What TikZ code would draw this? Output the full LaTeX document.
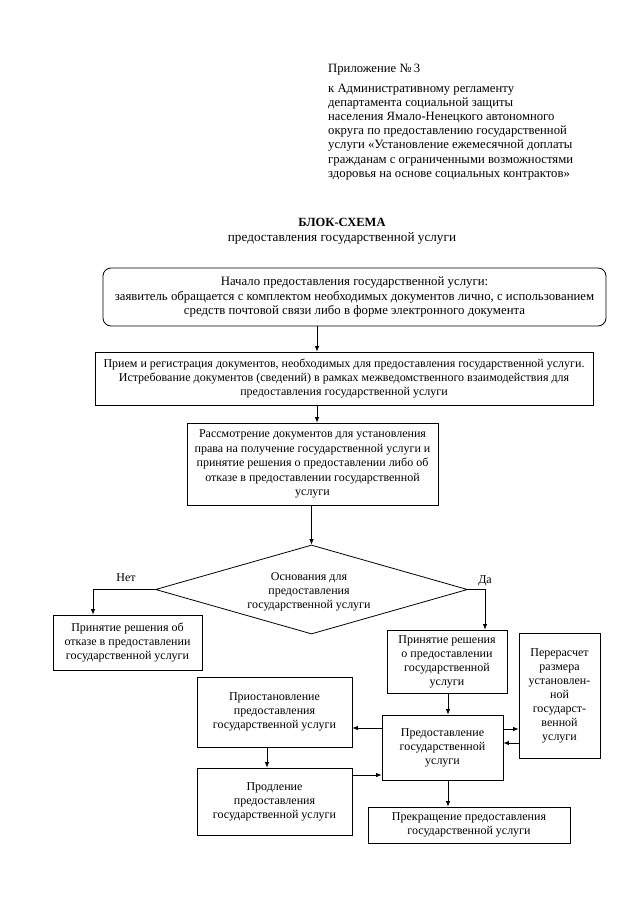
\documentclass[tikz,border=0pt]{standalone}
\usepackage{fontspec}
\setmainfont{Liberation Serif}
\usetikzlibrary{arrows.meta,shapes.geometric}
\begin{document}
\begin{tikzpicture}[x=1pt,y=-1pt,
  every node/.style={font=\fontsize{12}{14}\selectfont, inner sep=0pt},
  box/.style={draw, line width=0.8pt, align=center},
  arr/.style={draw, line width=0.8pt, -{Latex[length=5.5pt,width=4.5pt]}},
  ln/.style={draw, line width=0.8pt}]
\useasboundingbox[fill=white] (0,0) rectangle (640,905);

% header
\node[anchor=base west, font=\fontsize{12.7}{14}\selectfont] (app) at (328,72) {Приложение №\,3};
\node[anchor=north west, align=left, font=\fontsize{12.7}{14.1}\selectfont] (reg) at (328,84)
 {к Административному регламенту\\
  департамента социальной защиты\\
  населения Ямало-Ненецкого автономного\\
  округа по предоставлению государственной\\
  услуги «Установление ежемесячной доплаты\\
  гражданам с ограниченными возможностями\\
  здоровья на основе социальных контрактов»};
\node[anchor=base, font=\fontsize{12.5}{14}\selectfont\bfseries] (title) at (342,226) {БЛОК-СХЕМА};
\node[anchor=base, font=\fontsize{13.2}{14}\selectfont] (subtitle) at (342,241) {предоставления государственной услуги};

% boxes
\node[box, rounded corners=8pt, minimum width=503pt, minimum height=58pt, font=\fontsize{12.8}{14.5}\selectfont] (b1) at (354.5,297)
 {Начало предоставления государственной услуги:\\
  заявитель обращается с комплектом необходимых документов лично, с использованием\\
  средств почтовой связи либо в форме электронного документа};
\node[box, minimum width=498pt, minimum height=53pt] (b2) at (344,378.5)
 {Прием и регистрация документов, необходимых для предоставления государственной услуги.\\
  Истребование документов (сведений) в рамках межведомственного взаимодействия для\\
  предоставления государственной услуги};
\node[box, minimum width=251pt, minimum height=82pt, font=\fontsize{12}{14.5}\selectfont] (b3) at (312.5,464)
 {Рассмотрение документов для установления\\
  права на получение государственной услуги и\\
  принятие решения о предоставлении либо об\\
  отказе в предоставлении государственной\\
  услуги};
\node[box, shape=diamond, shape aspect=3.5, minimum width=312pt, minimum height=89pt] (dec) at (311.5,589.5) {};
\node[align=center] (dectext) at (309,592)
 {Основания для\\ предоставления\\ государственной услуги};
\node[box, minimum width=149pt, minimum height=55pt] (no) at (127.5,642.5)
 {Принятие решения об\\ отказе в предоставлении\\ государственной услуги};
\node[box, minimum width=120pt, minimum height=63pt] (yes) at (447,661.5)
 {Принятие решения\\ о предоставлении\\ государственной\\ услуги};
\node[box, minimum width=81pt, minimum height=125pt] (recalc) at (559.5,695.5)
 {Перерасчет\\ размера\\ установлен-\\ ной\\ государст-\\ венной\\ услуги};
\node[box, minimum width=121pt, minimum height=65pt] (prov) at (442.5,747.5)
 {Предоставление\\ государственной\\ услуги};
\node[box, minimum width=155pt, minimum height=70pt] (susp) at (274.5,712)
 {Приостановление\\ предоставления\\ государственной услуги};
\node[box, minimum width=155pt, minimum height=67pt] (ext) at (274.5,801.5)
 {Продление\\ предоставления\\ государственной услуги};
\node[box, minimum width=202pt, minimum height=36pt] (term) at (469,825)
 {Прекращение предоставления\\ государственной услуги};

% labels
\node[anchor=base] (lno) at (126,581) {Нет};
\node[anchor=base] (lyes) at (485,583) {Да};

% helper coordinates
\coordinate (cx) at (317,0);
\coordinate (cno) at (93,0);
\coordinate (cyes) at (485,0);
\coordinate (cdown) at (448,0);
\coordinate (csusp) at (267,0);
\coordinate (y1) at (0,728);
\coordinate (y2) at (0,775);
\coordinate (y3) at (0,729);
\coordinate (y4) at (0,743);

% connectors
\draw[arr] (b1.south -| cx) -- (b2.north -| cx);
\draw[arr] (b2.south -| cx) -- (b3.north -| cx);
\draw[arr] (b3.south -| dec.north) -- (dec.north);
\draw[arr] (dec.west) -- (dec.west -| cno) -- (no.north -| cno);
\draw[arr] (dec.east) -- (dec.east -| cyes) -- (yes.north -| cyes);
\draw[arr] (yes.south -| cdown) -- (prov.north -| cdown);
\draw[arr] (prov.south -| cdown) -- (term.north -| cdown);
\draw[arr] (prov.west |- y1) -- (susp.east |- y1);
\draw[arr] (susp.south -| csusp) -- (ext.north -| csusp);
\draw[arr] (ext.east |- y2) -- (prov.west |- y2);
\draw[arr] (prov.east |- y3) -- (recalc.west |- y3);
\draw[arr] (recalc.west |- y4) -- (prov.east |- y4);
\end{tikzpicture}
\end{document}
